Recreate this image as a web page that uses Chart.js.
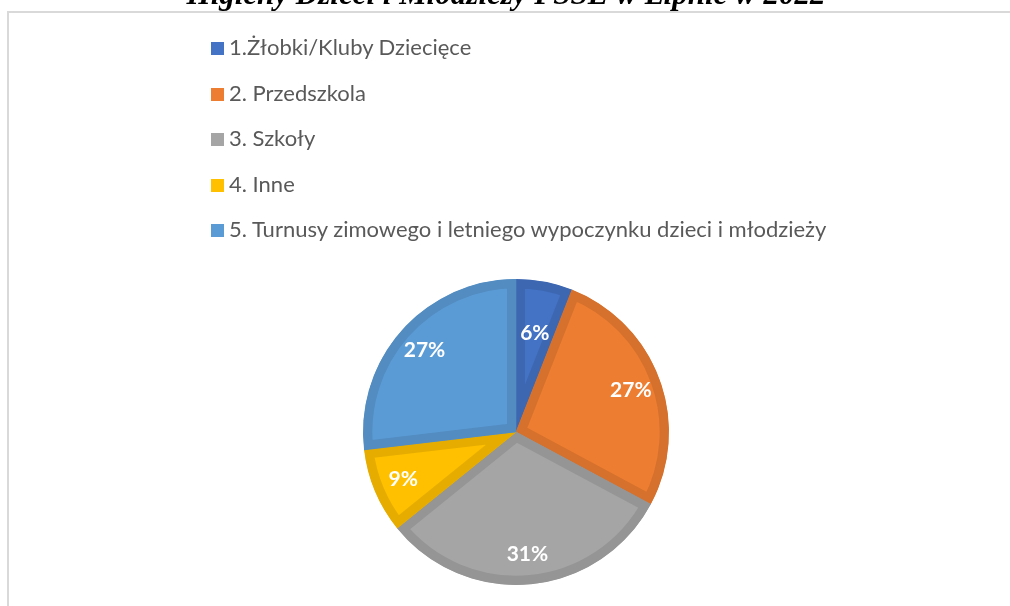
<!DOCTYPE html>
<html>
<head>
<meta charset="utf-8">
<script src="https://cdn.jsdelivr.net/npm/chart.js@4"></script>
<style>
  html, body { margin: 0; background: #fff; overflow: hidden; }
  #wrap { position: relative; width: 1010px; height: 606px; overflow: hidden; }
  #title { position: absolute; left: 0; width: 1012px; top: -24px; text-align: center;
           font: italic bold 31px "Liberation Serif", "Times New Roman", serif; color: #000;
           white-space: nowrap; z-index: 2; }
  #legend { position: absolute; left: 211px; top: 33px; font-family: Lato, sans-serif;
            font-size: 22px; color: #595959; z-index: 2; }
  #legend div { height: 45.5px; display: flex; align-items: flex-start; white-space: nowrap; }
  #legend span.box { display: inline-block; width: 13px; height: 13px; margin: 9px 5px 0 0; }
  canvas { position: absolute; left: 0; top: 0; }
</style>
</head>
<body>
<div id="wrap">
  <canvas id="myChart" width="1010" height="606"></canvas>
  <div id="title">Higieny Dzieci i Młodzieży PSSE w Lipnie w 2022</div>
  <div id="legend"></div>
</div>
<script>
const kategorie = ['1.Żłobki/Kluby Dziecięce', '2. Przedszkola', '3. Szkoły', '4. Inne',
  '5. Turnusy zimowego i letniego wypoczynku dzieci i młodzieży'];
const wartosci = [4, 18, 21, 6, 18];
const kolory = ['#4472C4', '#ED7D31', '#A5A5A5', '#FFC000', '#5B9BD5'];
const obramowania = ['#3D67B0', '#D5712C', '#959595', '#E6AD00', '#528CC0'];

// ramka obszaru wykresu (lewa i gorna krawedz)
const ramka = {
  id: 'ramka',
  beforeDraw(chart) {
    const ctx = chart.ctx;
    ctx.save();
    ctx.strokeStyle = '#d9d9d9';
    ctx.lineWidth = 2;
    ctx.beginPath();
    ctx.moveTo(8, chart.height);
    ctx.lineTo(8, 12);
    ctx.lineTo(chart.width, 12);
    ctx.stroke();
    ctx.restore();
  }
};

// etykiety procentowe na wycinkach
const etykiety = {
  id: 'etykiety',
  afterDatasetsDraw(chart) {
    const ctx = chart.ctx;
    const suma = wartosci.reduce((a, b) => a + b, 0);
    ctx.save();
    ctx.font = 'bold 21px Lato, sans-serif';
    ctx.fillStyle = '#fff';
    ctx.textAlign = 'center';
    ctx.textBaseline = 'middle';
    chart.getDatasetMeta(0).data.forEach((arc, i) => {
      const mid = (arc.startAngle + arc.endAngle) / 2;
      const r = arc.outerRadius * (wartosci[i] / suma < 0.08 ? 0.66 : 0.8);
      const x = arc.x + Math.cos(mid) * r;
      const y = arc.y + Math.sin(mid) * r;
      ctx.fillText(Math.round(wartosci[i] / suma * 100) + '%', x, y);
    });
    ctx.restore();
  }
};

const ctx = document.getElementById('myChart');
const wykres = new Chart(ctx, {
  type: 'pie',
  data: {
    labels: kategorie,
    datasets: [{
      data: wartosci,
      backgroundColor: kolory,
      borderColor: obramowania,
      borderWidth: 9,
      borderAlign: 'inner'
    }]
  },
  options: {
    responsive: false,
    animation: false,
    layout: { padding: { left: 363, right: 341, top: 279, bottom: 21 } },
    plugins: { legend: { display: false }, tooltip: { enabled: false } }
  },
  plugins: [ramka, etykiety]
});

const legenda = document.getElementById('legend');
kategorie.forEach((nazwa, i) => {
  const d = document.createElement('div');
  d.innerHTML = '<span class="box" style="background:' + kolory[i] + '"></span>' + nazwa;
  legenda.appendChild(d);
});
</script>
</body>
</html>
